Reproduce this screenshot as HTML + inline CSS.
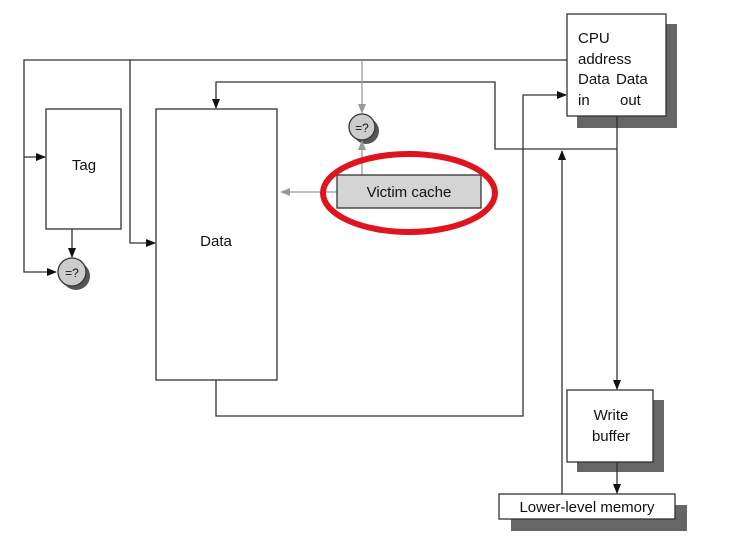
<!DOCTYPE html>
<html><head><meta charset="utf-8"><style>body{margin:0;background:#fff}svg{display:block}text{font-family:"Liberation Sans",sans-serif;fill:#111}</style></head><body>
<svg width="738" height="558" viewBox="0 0 738 558" xmlns="http://www.w3.org/2000/svg">
<defs>
<marker id="a" markerWidth="10" markerHeight="8" refX="9" refY="4" orient="auto" markerUnits="userSpaceOnUse"><path d="M0,0L10,4L0,8z" fill="#111"/></marker>
<marker id="g" markerWidth="10" markerHeight="8" refX="9" refY="4" orient="auto" markerUnits="userSpaceOnUse"><path d="M0,0L10,4L0,8z" fill="#999"/></marker>
</defs>
<g fill="none" stroke="#333" stroke-width="1.3">
<rect x="577" y="24" width="100" height="104" fill="#666" stroke="none"/>
<rect x="577" y="400" width="87" height="72" fill="#666" stroke="none"/>
<rect x="511" y="505" width="176" height="26" fill="#666" stroke="none"/>
<circle cx="76" cy="276" r="14" fill="#555" stroke="none"/>
<circle cx="366" cy="131" r="13" fill="#555" stroke="none"/>
<path d="M567,60H24V272H56" marker-end="url(#a)"/>
<path d="M24,157H45" marker-end="url(#a)"/>
<path d="M130,60V243H155" marker-end="url(#a)"/>
<path d="M72,229V257" marker-end="url(#a)"/>
<path d="M617,149H495V82H216V108" marker-end="url(#a)"/>
<path d="M216,380V416H523V95H566" marker-end="url(#a)"/>
<path d="M617,116V389" marker-end="url(#a)"/>
<path d="M617,462V493" marker-end="url(#a)"/>
<path d="M562,494V151" marker-end="url(#a)"/>
<path d="M362,60V113" stroke="#999" marker-end="url(#g)"/>
<path d="M362,175V141" stroke="#999" marker-end="url(#g)"/>
<path d="M337,192H281" stroke="#999" marker-end="url(#g)"/>
<rect x="567" y="14" width="99" height="102" fill="#fff"/>
<rect x="46" y="109" width="75" height="120" fill="#fff"/>
<rect x="156" y="109" width="121" height="271" fill="#fff"/>
<rect x="337" y="175" width="144" height="33" fill="#d4d4d4"/>
<rect x="567" y="390" width="86" height="72" fill="#fff"/>
<rect x="499" y="494" width="176" height="25" fill="#fff"/>
<circle cx="72" cy="272" r="14" fill="#ccc"/>
<circle cx="362" cy="127" r="13" fill="#ccc"/>
</g>
<ellipse cx="409" cy="193" rx="86" ry="39" fill="none" stroke="#e0141e" stroke-width="6"/>
<g font-size="15">
<text x="578" y="43">CPU</text>
<text x="578" y="64">address</text>
<text x="578" y="84">Data</text><text x="616" y="84">Data</text>
<text x="578" y="105">in</text><text x="620" y="105">out</text>
<text x="84" y="170" text-anchor="middle">Tag</text>
<text x="216" y="246" text-anchor="middle">Data</text>
<text x="409" y="197" text-anchor="middle">Victim cache</text>
<text x="611" y="420" text-anchor="middle">Write</text>
<text x="611" y="441" text-anchor="middle">buffer</text>
<text x="587" y="512" text-anchor="middle">Lower-level memory</text>
<text x="72" y="277" text-anchor="middle" font-size="12">=?</text>
<text x="362" y="132" text-anchor="middle" font-size="12">=?</text>
</g>
</svg>
</body></html>
